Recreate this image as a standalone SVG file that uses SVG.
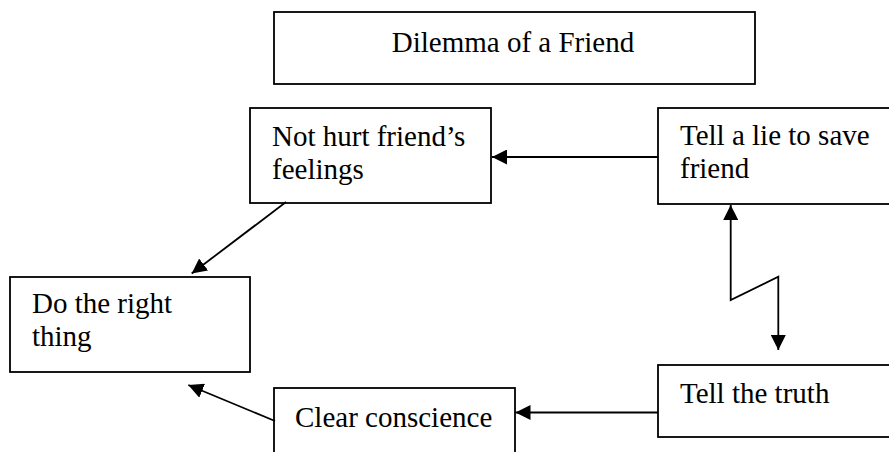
<svg xmlns="http://www.w3.org/2000/svg" width="889" height="452" viewBox="0 0 889 452">
<style>
.box{fill:#fff;stroke:#000;stroke-width:1.8}
.t{font-family:"Liberation Serif","Times New Roman",serif;font-size:29px;fill:#000}
.c{fill:none;stroke:#000;stroke-width:1.8}
</style>
<defs>
<marker id="ah" viewBox="0 0 15 15" refX="15" refY="7.5" markerWidth="15" markerHeight="15" markerUnits="userSpaceOnUse" orient="auto-start-reverse">
<path d="M0,0 L15,7.5 L0,15 Z" fill="#000"/>
</marker>
</defs>
<rect width="889" height="452" fill="#fff"/>
<g id="title">
<rect class="box" x="274" y="12" width="481" height="72"/>
<text class="t" x="513" y="52" text-anchor="middle">Dilemma of a Friend</text>
</g>
<g id="not-hurt">
<rect class="box" x="250" y="108" width="241" height="95"/>
<text class="t" x="272" y="146">Not hurt friend’s</text>
<text class="t" x="272" y="178.5">feelings</text>
</g>
<g id="tell-lie">
<rect class="box" x="658" y="108" width="240" height="96"/>
<text class="t" x="680" y="145">Tell a lie to save</text>
<text class="t" x="680" y="178">friend</text>
</g>
<g id="right-thing">
<rect class="box" x="10" y="277" width="240" height="95"/>
<text class="t" x="32" y="313">Do the right</text>
<text class="t" x="32" y="345.5">thing</text>
</g>
<g id="clear">
<rect class="box" x="274" y="388" width="241" height="80"/>
<text class="t" x="295" y="427">Clear conscience</text>
</g>
<g id="truth">
<rect class="box" x="658" y="365" width="240" height="72"/>
<text class="t" x="680" y="403">Tell the truth</text>
</g>
<g id="connectors">
<path class="c" d="M658,157 L492,157" marker-end="url(#ah)"/>
<path class="c" d="M286,202 L191.7,273.5" marker-end="url(#ah)"/>
<path class="c" d="M658,412.5 L515.5,412.5" marker-end="url(#ah)"/>
<path class="c" d="M275,421 L188.3,385" marker-end="url(#ah)"/>
<path class="c" d="M730.7,205 L730.7,300 L778.3,276.7 L778.3,350" marker-start="url(#ah)" marker-end="url(#ah)"/>
</g>
</svg>
